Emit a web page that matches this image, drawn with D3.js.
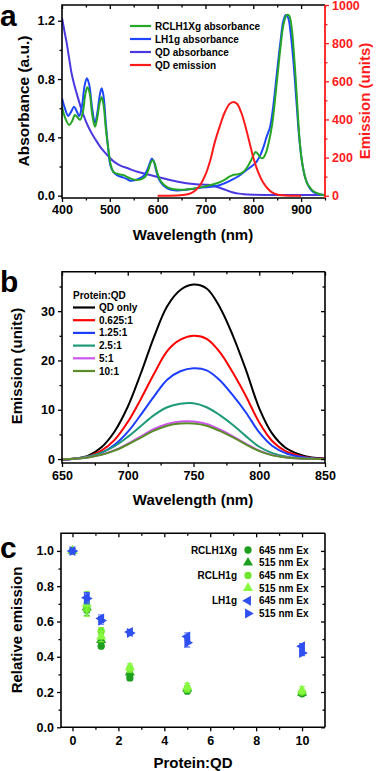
<!DOCTYPE html>
<html>
<head>
<meta charset="utf-8">
<script src="https://cdn.jsdelivr.net/npm/d3@7"></script>
<style>
  html, body { margin: 0; padding: 0; background: #fff; }
  svg { display: block; font-family: Arial, "Liberation Sans", sans-serif; font-weight: bold; }
  .axis path { display: none; }
  .axis line { stroke-width: 1.3; }
  .axis text { font-size: 12.5px; font-weight: bold; font-family: Arial, "Liberation Sans", sans-serif; }
</style>
</head>
<body>
<svg width="378" height="771"></svg>
<script>
// ---- panel a: absorbance / emission spectra, [wavelength, value]
const rclh1xgAbs = [[400,0.61],[407,0.53],[415,0.485],[421,0.51],[427,0.553],[433,0.535],[438,0.52],[444,0.58],[449,0.70],[453,0.743],[458,0.70],[463,0.56],[469,0.473],[474,0.54],[479,0.64],[483,0.675],[487,0.62],[492,0.45],[497,0.32],[502,0.21],[507,0.165],[515,0.15],[522,0.145],[528,0.142],[535,0.13],[545,0.115],[556,0.108],[565,0.112],[574,0.13],[581,0.18],[586,0.23],[590,0.245],[594,0.22],[599,0.16],[605,0.108],[615,0.07],[626,0.05],[640,0.042],[654,0.04],[670,0.046],[689,0.057],[705,0.068],[724,0.085],[740,0.108],[750,0.13],[758,0.142],[769,0.147],[778,0.16],[786,0.188],[795,0.24],[800,0.275],[805,0.30],[810,0.285],[815,0.262],[820,0.258],[826,0.29],[832,0.36],[840,0.50],[848,0.74],[856,0.99],[863,1.17],[870,1.24],[875,1.235],[880,1.16],[886,0.93],[891,0.68],[896,0.42],[900,0.28],[905,0.176],[912,0.09],[920,0.05],[926,0.03],[935,0.015],[947,0.005],[950,0.005]];
const lh1gAbs = [[400,0.668],[406,0.60],[413,0.547],[419,0.575],[425,0.61],[430,0.585],[436,0.547],[442,0.62],[447,0.75],[452,0.805],[457,0.76],[463,0.60],[469,0.50],[474,0.57],[479,0.69],[483,0.737],[487,0.68],[492,0.48],[497,0.31],[501,0.21],[507,0.165],[515,0.14],[525,0.128],[535,0.115],[542,0.103],[552,0.105],[563,0.12],[572,0.14],[580,0.19],[585,0.235],[588,0.255],[592,0.235],[597,0.17],[603,0.11],[612,0.07],[626,0.042],[640,0.036],[654,0.038],[670,0.045],[689,0.055],[705,0.06],[724,0.067],[740,0.085],[755,0.108],[770,0.135],[786,0.176],[800,0.21],[807,0.233],[815,0.28],[822,0.34],[828,0.405],[835,0.47],[842,0.62],[850,0.86],[857,1.06],[863,1.2],[868,1.24],[873,1.22],[878,1.12],[884,0.92],[890,0.66],[896,0.40],[902,0.23],[908,0.13],[915,0.07],[922,0.035],[930,0.018],[940,0.008],[950,0.004]];
const qdAbs = [[400,1.22],[405,1.13],[410,1.045],[415,0.94],[420,0.84],[425,0.77],[430,0.71],[440,0.60],[450,0.51],[460,0.44],[470,0.385],[480,0.335],[490,0.295],[500,0.26],[510,0.23],[520,0.21],[540,0.185],[560,0.162],[580,0.145],[600,0.128],[620,0.112],[640,0.097],[660,0.085],[680,0.078],[700,0.075],[710,0.073],[720,0.065],[730,0.054],[740,0.042],[750,0.03],[760,0.02],[770,0.014],[780,0.01],[800,0.007],[850,0.005],[900,0.004],[950,0.004]];
const qdEmission = [[600,0],[620,0],[640,1],[660,6],[670,14],[680,30],[690,60],[700,110],[710,185],[720,285],[730,365],[740,435],[750,480],[758,492],[766,482],[775,435],[785,350],[795,250],[800,200],[810,125],[820,72],[830,38],[840,16],[850,6],[860,2],[880,0],[900,0]];
const aSeries = ['RCLH1Xg absorbance', 'LH1g absorbance', 'QD absorbance', 'QD emission'];
const aColors = ['#26a626', '#1f45ff', '#4a38e0', '#ff1a1a'];

// ---- panel b: emission vs protein:QD ratio
const bWavelength = [650,660,670,680,690,700,710,720,730,740,750,760,770,780,790,800,810,820,830,840,850];
const bQdOnly  = [-0.2,0.1,0.7,2.4,5.6,10.6,17.4,24.8,31.0,34.3,35.4,34.6,30.8,25.0,18.0,10.3,5.1,2.3,1.0,0.3,0.1];
const b0625    = [-0.15,0.1,0.55,1.7,3.9,7.5,12.2,17.3,21.9,24.2,25.0,24.4,21.7,17.5,12.7,7.4,3.6,1.6,0.7,0.2,0.1];
const b125     = [-0.1,0.05,0.4,1.25,2.9,5.5,9.0,12.7,16.1,17.8,18.4,18.0,16.0,12.9,9.4,5.4,2.65,1.2,0.5,0.15,0.05];
const b25      = [-0.05,0.1,0.5,1.3,2.6,4.5,6.7,8.9,10.5,11.2,11.3,10.5,8.9,6.9,4.6,2.5,1.2,0.5,0.2,0.06,0.0];
const b5       = [-0.05,0.05,0.35,0.9,1.8,3.1,4.6,6.1,7.1,7.6,7.6,7.1,6.0,4.6,3.1,1.7,0.8,0.35,0.12,0.04,0.0];
const b10      = [-0.05,0.05,0.33,0.85,1.7,2.95,4.35,5.75,6.75,7.2,7.2,6.75,5.7,4.4,2.95,1.6,0.75,0.33,0.12,0.04,0.0];
const bLabels = ['QD only', '0.625:1', '1.25:1', '2.5:1', '5:1', '10:1'];
const bColors = ['#000000', '#ff0000', '#1c3dff', '#1f9a78', '#cc55ee', '#5b8c2a'];

// ---- panel c: relative emission
const cRatio = [0, 0.625, 1.25, 2.5, 5, 10];
const cRclh1xg645 = [1.0, 0.665, 0.46, 0.28, 0.205, 0.19];
const cRclh1xg515 = [1.0, 0.68, 0.495, 0.31, 0.22, 0.195];
const cRclh1g645  = [1.0, 0.67, 0.545, 0.33, 0.215, 0.20];
const cRclh1g515  = [1.0, 0.70, 0.515, 0.34, 0.23, 0.21];
const cLh1g645    = [1.0, 0.735, 0.617, 0.54, 0.515, 0.459];
const cLh1g515    = [1.0, 0.73, 0.605, 0.535, 0.48, 0.421];
const cErr1 = [0, 0.03, 0.01, 0.015, 0.01, 0.01];
const cErr2 = [0, 0.03, 0.02, 0.02, 0.015, 0.01];
const cErr3 = [0, 0.04, 0.02, 0.02, 0.015, 0.01];
const cErr4 = [0, 0.07, 0.03, 0.02, 0.02, 0.02];
const cErr5 = [0, 0.03, 0.02, 0.015, 0.02, 0.015];
const cErr6 = [0, 0.03, 0.02, 0.01, 0.025, 0.015];
const cGroups = ['RCLH1Xg', '', 'RCLH1g', '', 'LH1g', ''];
const cEx = ['645 nm Ex', '515 nm Ex', '645 nm Ex', '515 nm Ex', '645 nm Ex', '515 nm Ex'];
const cColors = ['#1e9e1e', '#1e9e1e', '#6ee62e', '#86fa3e', '#2f4ff0', '#2f4ff0'];
const cShapes = ['circle', 'up', 'circle', 'up', 'left', 'right'];

const svg = d3.select('svg');

// draws frame, major and minor ticks, mirrored inward ticks on top/right
function frame(x, y, opts) {
  const [x0, x1] = x.range();
  const [y0, y1] = y.range();
  const g = svg.append('g');
  const pad = opts.xPad || 3;

  g.append('g').attr('class', 'axis').attr('transform', `translate(0,${y0})`)
    .call(d3.axisBottom(x).tickValues(opts.xMajor).tickSize(4).tickPadding(pad).tickFormat(opts.xFmt || d3.format('d')));
  g.append('g').attr('class', 'axis').attr('transform', `translate(0,${y0})`)
    .call(d3.axisBottom(x).tickValues(opts.xMinor).tickSize(2.5).tickFormat(''));
  g.append('g').attr('class', 'axis').attr('transform', `translate(0,${y1})`)
    .call(d3.axisBottom(x).tickValues(opts.xMajor).tickSize(4).tickFormat(''));
  g.append('g').attr('class', 'axis').attr('transform', `translate(0,${y1})`)
    .call(d3.axisBottom(x).tickValues(opts.xMinor).tickSize(2.5).tickFormat(''));

  g.append('g').attr('class', 'axis').attr('transform', `translate(${x0},0)`)
    .call(d3.axisLeft(y).tickValues(opts.yMajor).tickSize(4).tickPadding(3).tickFormat(opts.yFmt));
  g.append('g').attr('class', 'axis').attr('transform', `translate(${x0},0)`)
    .call(d3.axisLeft(y).tickValues(opts.yMinor).tickSize(2.5).tickFormat(''));
  if (opts.mirrorRight) {
    g.append('g').attr('class', 'axis').attr('transform', `translate(${x1},0)`)
      .call(d3.axisLeft(y).tickValues(opts.yMajor).tickSize(4).tickFormat(''));
    g.append('g').attr('class', 'axis').attr('transform', `translate(${x1},0)`)
      .call(d3.axisLeft(y).tickValues(opts.yMinor).tickSize(2.5).tickFormat(''));
  }

  g.append('path')
    .attr('d', `M${x1},${y1}H${x0}V${y0}H${x1}`)
    .attr('fill', 'none').attr('stroke', '#000').attr('stroke-width', 1.6);
  if (opts.mirrorRight) {
    g.append('line').attr('x1', x1).attr('x2', x1).attr('y1', y0).attr('y2', y1)
      .attr('stroke', '#000').attr('stroke-width', 1.6);
  }
  return g;
}

function title(text, x, y, rotate, size, color) {
  svg.append('text')
    .attr('transform', `translate(${x},${y})${rotate ? ' rotate(-90)' : ''}`)
    .attr('text-anchor', 'middle')
    .attr('font-size', size)
    .attr('fill', color || '#000')
    .text(text);
}

function panelLetter(text, x, y) {
  svg.append('text').attr('x', x).attr('y', y).attr('font-size', 30).text(text);
}

// ================= panel a =================
const ax = d3.scaleLinear([400, 950], [62, 325]);
const ay = d3.scaleLinear([-0.016, 1.308], [198, 5]);
const ayR = d3.scaleLinear([-12, 1000], [198, 5]);

svg.append('clipPath').attr('id', 'clipA').append('rect')
  .attr('x', 62).attr('y', 5).attr('width', 263).attr('height', 193);

const aLine = d3.line().curve(d3.curveCatmullRom).x(d => ax(d[0])).y(d => ay(d[1]));
const aLineR = d3.line().curve(d3.curveCatmullRom).x(d => ax(d[0])).y(d => ayR(d[1]));

const aPlot = svg.append('g').attr('clip-path', 'url(#clipA)');
[qdAbs, lh1gAbs, rclh1xgAbs].forEach((s, i) => {
  const ci = [2, 1, 0][i];
  aPlot.append('path').attr('d', aLine(s)).attr('fill', 'none')
    .attr('stroke', aColors[ci]).attr('stroke-width', 2);
});
aPlot.append('path').attr('d', aLineR(qdEmission)).attr('fill', 'none')
  .attr('stroke', aColors[3]).attr('stroke-width', 2);

frame(ax, ay, {
  xMajor: d3.range(400, 901, 100), xMinor: d3.range(450, 951, 100),
  yMajor: [0, 0.4, 0.8, 1.2], yMinor: [0.2, 0.6, 1.0],
  yFmt: d3.format('.1f'),
});
// right (red) emission axis
const aRight = svg.append('g').attr('class', 'axis').attr('transform', 'translate(325,0)')
  .call(d3.axisRight(ayR).tickValues(d3.range(0, 1001, 200)).tickSize(4).tickPadding(3).tickFormat(d3.format('d')));
svg.append('g').attr('class', 'axis').attr('transform', 'translate(325,0)')
  .call(d3.axisRight(ayR).tickValues(d3.range(100, 1000, 200)).tickSize(2.5).tickFormat(''))
  .selectAll('line').attr('stroke', '#ff1a1a');
aRight.selectAll('line').attr('stroke', '#ff1a1a');
aRight.selectAll('text').attr('fill', '#ff1a1a');
svg.append('line').attr('x1', 325).attr('x2', 325).attr('y1', 5).attr('y2', 198)
  .attr('stroke', '#ff1a1a').attr('stroke-width', 1.8);

title('Absorbance (a.u.)', 29, 101, true, 15.5);
title('Emission (units)', 370, 101, true, 15, '#ff1a1a');
title('Wavelength (nm)', 193, 240, false, 15);
panelLetter('a', 0, 26);

// legend a
const aLeg = svg.append('g');
aSeries.forEach((name, i) => {
  const yy = 26 + i * 13;
  aLeg.append('line').attr('x1', 130).attr('x2', 151).attr('y1', yy).attr('y2', yy)
    .attr('stroke', aColors[i]).attr('stroke-width', 2.2);
  aLeg.append('text').attr('x', 155).attr('y', yy).attr('dy', '0.35em')
    .attr('font-size', 10).text(name);
});

// ================= panel b =================
const bx = d3.scaleLinear([650, 850], [62, 325]);
const by = d3.scaleLinear([-0.8, 38], [463, 271.7]);
const bLine = d3.line().curve(d3.curveCatmullRom).x((d, i) => bx(bWavelength[i])).y(d => by(d));
const bData = [bQdOnly, b0625, b125, b25, b5, b10];

svg.append('clipPath').attr('id', 'clipB').append('rect')
  .attr('x', 62).attr('y', 271.7).attr('width', 263).attr('height', 191.3);
const bPlot = svg.append('g').attr('clip-path', 'url(#clipB)');
bData.forEach((s, i) => {
  bPlot.append('path').attr('d', bLine(s)).attr('fill', 'none')
    .attr('stroke', bColors[i]).attr('stroke-width', 2);
});

frame(bx, by, {
  xMajor: d3.range(650, 851, 50), xMinor: d3.range(675, 851, 50),
  yMajor: [0, 10, 20, 30], yMinor: [5, 15, 25, 35],
  yFmt: d3.format('d'), mirrorRight: true, xPad: 4,
});
title('Emission (units)', 22, 366, true, 15);
title('Wavelength (nm)', 193, 505, false, 15);
panelLetter('b', 0, 292);

const bLeg = svg.append('g');
bLeg.append('text').attr('x', 73).attr('y', 295).attr('dy', '0.35em').attr('font-size', 10).text('Protein:QD');
bLabels.forEach((name, i) => {
  const yy = 307.5 + i * 12.7;
  bLeg.append('line').attr('x1', 73).attr('x2', 95).attr('y1', yy).attr('y2', yy)
    .attr('stroke', bColors[i]).attr('stroke-width', 2.2);
  bLeg.append('text').attr('x', 99).attr('y', yy).attr('dy', '0.35em')
    .attr('font-size', 10).text(name);
});

// ================= panel c =================
const cx = d3.scaleLinear([-0.5, 11], [61, 325]);
const cy = d3.scaleLinear([0, 1.1], [727.3, 533.3]);
const cData = [cRclh1xg645, cRclh1xg515, cRclh1g645, cRclh1g515, cLh1g645, cLh1g515];
const cErr = [cErr1, cErr2, cErr3, cErr4, cErr5, cErr6];

frame(cx, cy, {
  xMajor: d3.range(0, 11, 2), xMinor: d3.range(1, 11, 2),
  yMajor: d3.range(0, 1.01, 0.2), yMinor: d3.range(0.1, 1.1, 0.2),
  yFmt: d3.format('.1f'), mirrorRight: true, xPad: 5,
});

function marker(shape) {
  if (shape === 'circle') return { path: d3.symbol(d3.symbolCircle, 42)(), rot: 0 };
  const p = d3.symbol(d3.symbolTriangle, 44)();
  return { path: p, rot: shape === 'up' ? 0 : shape === 'left' ? -90 : 90 };
}

const cPlot = svg.append('g');
cData.forEach((s, k) => {
  const g = cPlot.append('g');
  const m = marker(cShapes[k]);
  s.forEach((v, i) => {
    const px = cx(cRatio[i]);
    const e = cErr[k][i];
    if (e > 0) {
      g.append('path')
        .attr('d', `M${px},${cy(v - e)}V${cy(v + e)}M${px - 3},${cy(v - e)}H${px + 3}M${px - 3},${cy(v + e)}H${px + 3}`)
        .attr('stroke', cColors[k]).attr('stroke-width', 1).attr('fill', 'none');
    }
    g.append('path').attr('d', m.path)
      .attr('transform', `translate(${px},${cy(v)}) rotate(${m.rot})`)
      .attr('fill', cColors[k]);
  });
});

const cLeg = svg.append('g');
cEx.forEach((name, i) => {
  const yy = 550 + i * 12.7;
  const m = marker(cShapes[i]);
  if (cGroups[i]) {
    cLeg.append('text').attr('x', 237).attr('y', yy).attr('dy', '0.35em')
      .attr('text-anchor', 'end').attr('font-size', 10).text(cGroups[i]);
  }
  cLeg.append('path').attr('d', m.path)
    .attr('transform', `translate(248,${yy}) rotate(${m.rot})`)
    .attr('fill', cColors[i]);
  cLeg.append('text').attr('x', 259).attr('y', yy).attr('dy', '0.35em')
    .attr('font-size', 10).text(name);
});

title('Relative emission', 22, 630, true, 15);
title('Protein:QD', 193, 768, false, 15);
panelLetter('c', 0, 558);
</script>
</body>
</html>
